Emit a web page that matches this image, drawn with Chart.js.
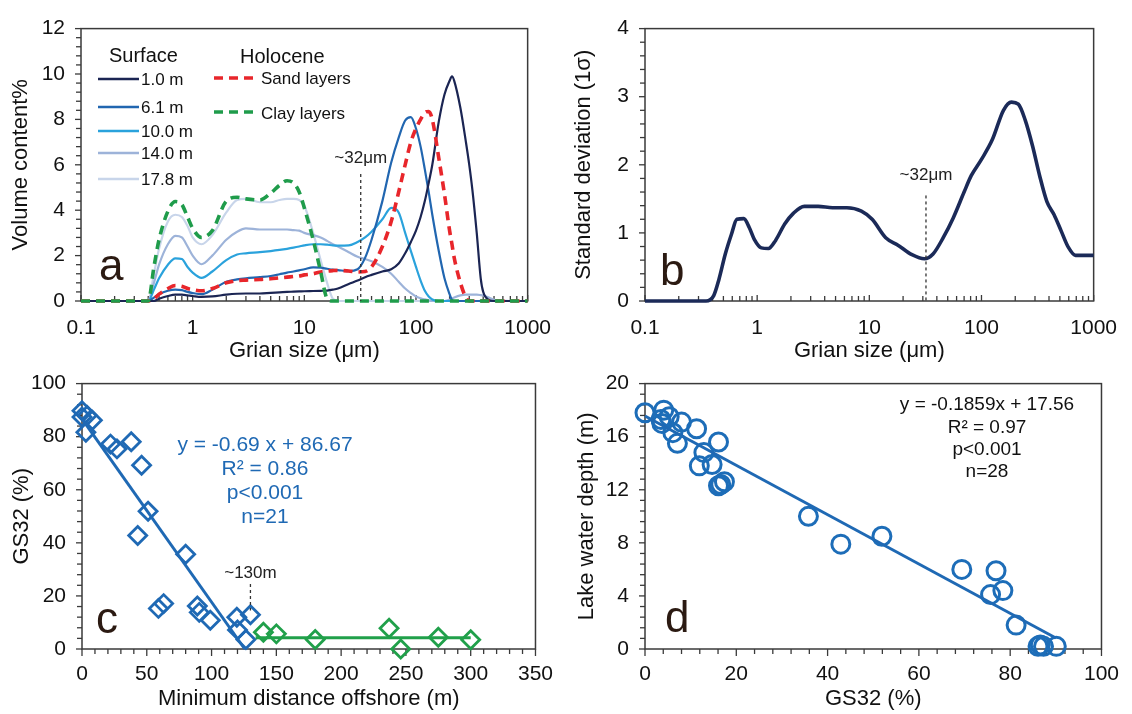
<!DOCTYPE html>
<html><head><meta charset="utf-8">
<script src="https://cdn.jsdelivr.net/npm/chart.js@4.4.1/dist/chart.umd.min.js"></script>
<style>
html,body{margin:0;padding:0;background:#fff;width:1132px;height:714px;overflow:hidden;position:relative}
canvas{position:absolute}
</style></head><body>
<canvas id="ca" width="566" height="370" style="left:0;top:0"></canvas>
<canvas id="cb" width="566" height="370" style="left:566px;top:0"></canvas>
<canvas id="cc" width="566" height="359" style="left:0;top:355px"></canvas>
<canvas id="cd" width="566" height="359" style="left:566px;top:355px"></canvas>
<script>
// ---------- DATA ----------
const grainSize = [0.1,0.3,0.4,0.45,0.5,0.6,0.7,0.8,0.9,1,
 1.2,1.5,2,2.5,3,4,5,6,7,8,
 9,10,12,14,16,18,20,25,30,35,
 40,50,60,70,80,90,100,110,120,130,
 140,160,180,200,210,220,250,280,300,320,
 350,380,400,450,500,700,1000];
const surf1_0 = [0,0,0,0,0.1,0.22,0.28,0.28,0.25,0.22,
 0.18,0.2,0.28,0.32,0.33,0.33,0.36,0.38,0.4,0.41,
 0.42,0.43,0.44,0.45,0.46,0.5,0.55,0.75,0.9,1.05,
 1.15,1.3,1.4,1.65,2.1,2.6,3.1,3.7,4.4,5.2,
 6.0,7.9,9.1,9.7,9.9,9.7,8.5,7.0,6.0,4.9,
 3.0,1.0,0.4,0.05,0,0,0];
const surf6_1 = [0,0,0,0.15,0.3,0.45,0.5,0.48,0.4,0.35,
 0.3,0.5,0.85,0.95,1.0,1.05,1.1,1.18,1.25,1.3,
 1.35,1.4,1.48,1.47,1.42,1.38,1.36,1.32,1.4,1.9,
 2.7,4.4,6.1,7.2,7.95,8.1,7.6,6.8,5.8,4.8,
 3.8,2.2,1.0,0.3,0.05,0,0,0,0,0,
 0,0,0,0,0,0,0];
const surf10_0 = [0,0,0,0.5,1.0,1.6,1.88,1.85,1.5,1.25,
 1.02,1.3,1.8,2.05,2.1,2.15,2.2,2.25,2.3,2.35,
 2.4,2.45,2.5,2.5,2.48,2.45,2.44,2.45,2.6,2.8,
 3.05,3.6,4.1,3.9,3.0,2.2,1.5,0.9,0.45,0.2,
 0.07,0,0,0,0,0,0,0,0,0,
 0,0,0,0,0,0,0];
const surf14_0 = [0,0,0,0.8,1.6,2.5,2.87,2.8,2.4,2.0,
 1.62,2.0,2.7,3.05,3.2,3.15,3.15,3.15,3.15,3.12,
 3.1,3.0,2.9,2.8,2.65,2.5,2.4,2.15,1.95,1.85,
 1.75,1.5,1.2,0.85,0.55,0.35,0.2,0.12,0.07,0.03,
 0,0,0,0.05,0.1,0.15,0.25,0.28,0.28,0.28,
 0.28,0.26,0.24,0.15,0.05,0,0];
const surf17_8 = [0,0,0,1.2,2.3,3.5,3.8,3.7,3.3,2.8,
 2.5,2.9,3.9,4.45,4.5,4.35,4.35,4.45,4.5,4.5,
 4.45,4.2,3.0,1.8,0.8,0.1,0,0,0,0,
 0,0,0,0,0,0,0,0,0,0,
 0,0,0,0,0,0,0,0,0,0,
 0,0,0,0,0,0,0];
const holoSand = [0,0,0,0.1,0.3,0.55,0.68,0.65,0.55,0.5,
 0.45,0.55,0.8,0.9,0.92,0.95,0.98,1.02,1.05,1.08,
 1.1,1.15,1.2,1.28,1.32,1.34,1.35,1.32,1.28,1.3,
 1.5,2.4,3.5,4.8,6.0,7.0,7.6,8.0,8.3,8.35,
 8.0,6.3,4.7,3.1,2.5,1.9,0.8,0.15,0,0,
 0,0,0,0,0,0,0];
const holoClay = [0,0,0,1.5,2.7,3.95,4.38,4.25,3.7,3.2,
 2.8,3.1,4.4,4.57,4.5,4.45,4.75,5.1,5.3,5.2,
 4.8,4.1,2.7,1.3,0.1,0,0,0,0,0,
 0,0,0,0,0,0,0,0,0,0,
 0,0,0,0,0,0,0,0,0,0,
 0,0,0,0,0,0,0];

const sdSize = [0.1,0.35,0.41,0.455,0.52,0.59,0.66,0.76,0.85,0.94,1.09,1.26,1.46,1.76,2.11,2.63,3.5,4.7,6.3,8.5,10.6,14,18,24,31,37,45.6,56,70,81,100,125,157,185,213,245,285,330,383,443,513,594,689,1000];
const sdValue = [0,0,0.08,0.31,0.69,0.98,1.2,1.21,1.08,0.91,0.78,0.77,0.89,1.13,1.29,1.39,1.39,1.37,1.37,1.32,1.2,0.93,0.82,0.68,0.62,0.69,0.93,1.22,1.6,1.84,2.08,2.37,2.8,2.92,2.89,2.66,2.28,1.84,1.46,1.27,1.03,0.79,0.67,0.67];

const nearDist = [0,4,0,8,3,22,27,38,46,51,43,80,59,63,89,90.5,99,119.5,120,130,126.5];
const nearGS32 = [89.8,88,87.4,86.2,81.7,77.2,75.4,78.1,69.2,51.9,42.8,35.7,15.3,17.1,16.2,13.8,10.8,12,7.2,12.9,3.6];
const farDist = [140,150,180,237,246,275,300];
const farGS32 = [6.3,5.7,3.6,7.8,0,4.4,3.5];
const nearFitX = [0,125.6], nearFitY = [86.67,0];
const farFitX = [134,300], farFitY = [4.2,4.2];

const dGS32 = [0,4.1,3.7,5.3,6.1,8.0,7.1,11.3,12.9,11.9,14.7,16.1,16.1,17.4,35.8,42.9,51.9,69.4,76.9,75.7,78.4,81.3,86.1,87.3,90.1,3.5,86.6,16.6];
const dDepth = [17.8,18.0,17.0,17.5,16.3,17.1,15.5,16.6,14.8,13.8,13.9,15.6,12.3,12.6,10.0,7.9,8.5,6.0,5.9,4.1,4.4,1.8,0.2,0.2,0.2,17.3,0.3,12.4];
const dFitX = [0,90], dFitY = [17.56,0.83];

const logTickLabels = [0.1,1,10,100,1000];

// ---------- HELPERS ----------
const FF = "'Liberation Sans', Arial, Helvetica, sans-serif";
const TICKFONT = 21;
const pts = (xs, ys) => xs.map((x,i)=>({x, y: ys[i]}));
const range = (a,b,s) => { const r=[]; for(let v=a; v<=b+1e-9; v+=s) r.push(Math.round(v*1000)/1000); return r; };
const logMinor = (() => { const r=[]; [0.1,1,10,100].forEach(d=>{for(let k=1;k<10;k++) r.push(d*k);}); r.push(1000); return r; })();

const deco = {
  id:'deco',
  beforeDatasetsDraw(chart, args, o){
    const ctx=chart.ctx, ca=chart.chartArea;
    ctx.save();
    ctx.strokeStyle='#3a3a3a'; ctx.lineWidth=1.5;
    ctx.strokeRect(ca.left, ca.top, ca.right-ca.left, ca.bottom-ca.top);
    ctx.lineWidth=1.3;
    (o.ticks||[]).forEach(t=>{
      const sc=chart.scales[t.axis];
      t.values.forEach(v=>{
        const major=t.major.some(m=>Math.abs(m-v)<1e-6*Math.max(1,Math.abs(m)));
        const len=major?t.majorLen:t.minorLen;
        const s=t.dir==='in'?-1:1;
        ctx.beginPath();
        if(t.axis==='x'){const px=sc.getPixelForValue(v); ctx.moveTo(px,ca.bottom); ctx.lineTo(px,ca.bottom+s*len);}
        else {const py=sc.getPixelForValue(v); ctx.moveTo(ca.left,py); ctx.lineTo(ca.left-s*len,py);}
        ctx.stroke();
      });
    });
    ctx.restore();
  },
  afterDatasetsDraw(chart, args, o){
    const ctx=chart.ctx; ctx.save();
    const xs=chart.scales.x, ys=chart.scales.y;
    (o.vlines||[]).forEach(l=>{
      const px=xs.getPixelForValue(l.x);
      ctx.beginPath(); ctx.setLineDash([3,3]); ctx.lineWidth=1.3; ctx.strokeStyle='#333';
      ctx.moveTo(px, ys.getPixelForValue(l.y0)); ctx.lineTo(px, ys.getPixelForValue(l.y1)); ctx.stroke();
    });
    (o.lines||[]).forEach(l=>{
      ctx.beginPath(); ctx.setLineDash(l.dash||[]); ctx.lineWidth=l.w; ctx.strokeStyle=l.c;
      ctx.moveTo(l.x0,l.y); ctx.lineTo(l.x1,l.y); ctx.stroke();
    });
    ctx.setLineDash([]);
    (o.texts||[]).forEach(t=>{
      ctx.font=`${t.size}px ${FF}`; ctx.fillStyle=t.color||'#111';
      ctx.textAlign=t.align||'left'; ctx.textBaseline=t.base||'middle';
      let x=t.x, y=t.y;
      if(t.data){x=xs.getPixelForValue(t.x); y=ys.getPixelForValue(t.y);}
      ctx.fillText(t.t,x,y);
    });
    ctx.restore();
  }
};

function logX(title, h, tickPad, titlePad){
  return {type:'logarithmic', position:'bottom', min:0.1, max:1000,
    ticks:{autoSkip:false, maxRotation:0, minRotation:0, padding:tickPad, color:'#111', font:{family:FF,size:TICKFONT},
      callback:(v)=>logTickLabels.some(m=>Math.abs(m-v)<1e-6*m) ? String(Number(Number(v).toPrecision(2))) : ''},
    grid:{display:false, drawTicks:false}, border:{display:false},
    title:{display:true, text:title, color:'#111', font:{family:FF,size:22}, padding:{top:0,bottom:titlePad}},
    afterFit:(s)=>{s.height=h;}};
}
function linX(min,max,step,title,h,tickPad,titlePad){
  return {type:'linear', position:'bottom', min, max,
    ticks:{stepSize:step, autoSkip:false, maxRotation:0, padding:tickPad, color:'#111', font:{family:FF,size:TICKFONT}},
    grid:{display:false, drawTicks:false}, border:{display:false},
    title:{display:true, text:title, color:'#111', font:{family:FF,size:22}, padding:{top:0,bottom:titlePad}},
    afterFit:(s)=>{s.height=h;}};
}
function linY(min,max,step,title,w,titlePad){
  return {type:'linear', position:'left', min, max,
    ticks:{stepSize:step, autoSkip:false, padding:16, color:'#111', font:{family:FF,size:TICKFONT}},
    grid:{display:false, drawTicks:false}, border:{display:false},
    title:{display:true, text:title, color:'#111', font:{family:FF,size:22}, padding:{top:titlePad,bottom:0}},
    afterFit:(s)=>{s.width=w;}};
}
const line = (label, xs, ys, color, width, dash) => ({type:'line', label, data:pts(xs,ys), borderColor:color, borderWidth:width, borderDash:dash||[], pointRadius:0, cubicInterpolationMode:'monotone', fill:false, clip:false});

const C1='#1b2553', C6='#2166b0', C10='#2aa2dc', C14='#9db3d9', C17='#c8d5ea', CR='#e8262b', CG='#1f9c4b';
const BLUE='#1f69b4', GREEN='#20a04a';

// ---------- PANEL A ----------
new Chart(document.getElementById('ca'), {
  type:'line',
  data:{datasets:[
    line('Clay layers', grainSize, holoClay, CG, 3.6, [9,6]),
    line('Sand layers', grainSize, holoSand, CR, 3.6, [9,6]),
    line('1.0 m', grainSize, surf1_0, C1, 2.2),
    line('6.1 m', grainSize, surf6_1, C6, 2.2),
    line('10.0 m', grainSize, surf10_0, C10, 2.2),
    line('14.0 m', grainSize, surf14_0, C14, 2.2),
    line('17.8 m', grainSize, surf17_8, C17, 2.2)
  ]},
  options:{responsive:false, animation:false,
    layout:{padding:{left:0,top:23,right:26,bottom:0}},
    plugins:{legend:{display:false}, tooltip:{enabled:false},
      deco:{
        ticks:[{axis:'x', values:logMinor, major:logTickLabels, dir:'in', majorLen:6, minorLen:5},
               {axis:'y', values:range(0,12,0.4), major:range(0,12,2), dir:'out', majorLen:6, minorLen:5}],
        vlines:[{x:32, y0:5.6, y1:0}],
        lines:[{x0:98,x1:139,y:79,c:C1,w:2.5},{x0:98,x1:139,y:107,c:C6,w:2.5},{x0:98,x1:139,y:131,c:C10,w:2.5},
               {x0:98,x1:139,y:153,c:C14,w:2.5},{x0:98,x1:139,y:179,c:C17,w:2.5},
               {x0:214,x1:256,y:78,c:CR,w:3.6,dash:[9,6]},{x0:214,x1:256,y:112,c:CG,w:3.6,dash:[9,6]}],
        texts:[{t:'Surface',x:109,y:56,size:20},{t:'Holocene',x:240,y:57,size:20},
               {t:'1.0 m',x:141,y:80,size:17},{t:'6.1 m',x:141,y:108,size:17},{t:'10.0 m',x:141,y:132,size:17},
               {t:'14.0 m',x:141,y:154,size:17},{t:'17.8 m',x:141,y:180,size:17},
               {t:'Sand layers',x:261,y:79,size:17},{t:'Clay layers',x:261,y:114,size:17},
               {t:'~32μm',x:32,y:6.3,data:true,align:'center',size:17,color:'#222'},
               {t:'a',x:99,y:280,size:44,base:'alphabetic',color:'#2b1a12'}]
      }},
    scales:{x:logX('Grian size (μm)',69,15,6), y:linY(0,12,2,'Volume content%',81,8)}
  },
  plugins:[deco]
});

// ---------- PANEL B ----------
new Chart(document.getElementById('cb'), {
  type:'line',
  data:{datasets:[ line('SD', sdSize, sdValue, '#1b2a58', 3.6) ]},
  options:{responsive:false, animation:false,
    layout:{padding:{left:0,top:23,right:29,bottom:0}},
    plugins:{legend:{display:false}, tooltip:{enabled:false},
      deco:{
        ticks:[{axis:'x', values:logMinor, major:logTickLabels, dir:'in', majorLen:6, minorLen:5},
               {axis:'y', values:range(0,4,0.2), major:range(0,4,1), dir:'out', majorLen:6, minorLen:5}],
        vlines:[{x:32, y0:1.55, y1:0}],
        texts:[{t:'~32μm',x:32,y:1.85,data:true,align:'center',size:17,color:'#222'},
               {t:'b',x:94,y:285,size:44,base:'alphabetic',color:'#2b1a12'}]
      }},
    scales:{x:logX('Grian size (μm)',69,15,6), y:linY(0,4,1,'Standard deviation (1σ)',79,5)}
  },
  plugins:[deco]
});

// ---------- PANEL C ----------
const diamond = (label, xs, ys, color) => ({type:'scatter', label, data:pts(xs,ys), pointStyle:'rectRot', pointRadius:9, borderWidth:2.8, borderColor:color, backgroundColor:'rgba(255,255,255,0)', clip:false, showLine:false});
new Chart(document.getElementById('cc'), {
  type:'scatter',
  data:{datasets:[
    {...line('fit near', nearFitX, nearFitY, BLUE, 3), cubicInterpolationMode:'default', tension:0},
    {...line('fit far', farFitX, farFitY, GREEN, 3), cubicInterpolationMode:'default', tension:0},
    diamond('near', nearDist, nearGS32, BLUE),
    diamond('far', farDist, farGS32, GREEN)
  ]},
  options:{responsive:false, animation:false,
    layout:{padding:{left:0,top:15,right:26,bottom:0}},
    plugins:{legend:{display:false}, tooltip:{enabled:false},
      deco:{
        ticks:[{axis:'x', values:range(0,350,10), major:range(0,350,50), dir:'out', majorLen:7, minorLen:5},
               {axis:'y', values:range(0,100,4), major:range(0,100,20), dir:'out', majorLen:6, minorLen:5}],
        vlines:[{x:130, y0:24.5, y1:14.5}],
        texts:[{t:'y = -0.69 x + 86.67',x:265,y:90,size:21,align:'center',color:BLUE},
               {t:'R² = 0.86',x:265,y:114,size:21,align:'center',color:BLUE},
               {t:'p<0.001',x:265,y:138,size:21,align:'center',color:BLUE},
               {t:'n=21',x:265,y:162,size:21,align:'center',color:BLUE},
               {t:'~130m',x:130,y:28.7,data:true,align:'center',size:17,color:'#222'},
               {t:'c',x:96,y:278,size:44,base:'alphabetic',color:'#2b1a12'}]
      }},
    scales:{x:linX(0,350,50,'Minimum distance offshore (m)',65,13,2), y:linY(0,100,20,'GS32 (%)',82,9)}
  },
  plugins:[deco]
});

// ---------- PANEL D ----------
new Chart(document.getElementById('cd'), {
  type:'scatter',
  data:{datasets:[
    {...line('fit', dFitX, dFitY, BLUE, 3), cubicInterpolationMode:'default', tension:0},
    {type:'scatter', label:'samples', data:pts(dGS32,dDepth), pointStyle:'circle', pointRadius:9, borderWidth:3, borderColor:'#1d6db8', backgroundColor:'rgba(255,255,255,0)', clip:false}
  ]},
  options:{responsive:false, animation:false,
    layout:{padding:{left:0,top:15,right:29,bottom:0}},
    plugins:{legend:{display:false}, tooltip:{enabled:false},
      deco:{
        ticks:[{axis:'x', values:range(0,100,4), major:range(0,100,20), dir:'out', majorLen:7, minorLen:5},
               {axis:'y', values:range(0,20,0.8), major:range(0,20,4), dir:'out', majorLen:6, minorLen:5}],
        texts:[{t:'y = -0.1859x + 17.56',x:421,y:50,size:19,align:'center'},
               {t:'R² = 0.97',x:421,y:73,size:19,align:'center'},
               {t:'p<0.001',x:421,y:95,size:19,align:'center'},
               {t:'n=28',x:421,y:117,size:19,align:'center'},
               {t:'d',x:99,y:277,size:44,base:'alphabetic',color:'#2b1a12'}]
      }},
    scales:{x:linX(0,100,20,'GS32 (%)',65,13,2), y:linY(0,20,4,'Lake water depth (m)',79,8)}
  },
  plugins:[deco]
});
</script>
</body></html>
